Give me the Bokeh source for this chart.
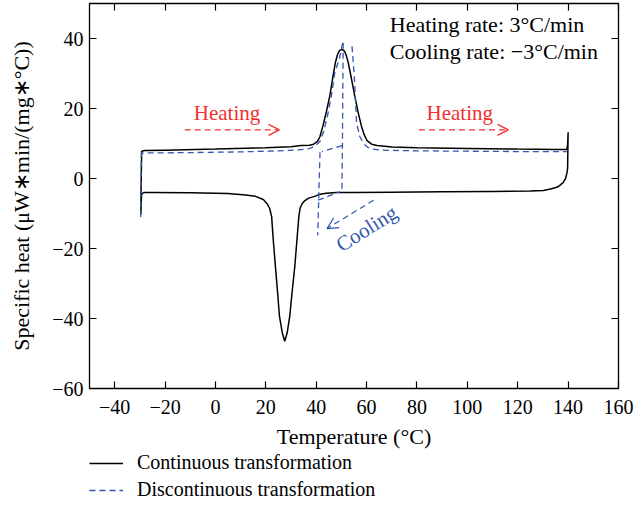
from bokeh.plotting import figure
from bokeh.layouts import column
from bokeh.models import (LinearAxis, Range1d, Arrow, OpenHead, Label, Legend,
                          LegendItem, FixedTicker, CustomJSTickFormatter)
from bokeh.embed import file_html
from bokeh.resources import INLINE

# ---------------- data ----------------
x_ticks = [-40, -20, 0, 20, 40, 60, 80, 100, 120, 140, 160]
y_ticks = [-60, -40, -20, 0, 20, 40]

# continuous transformation: heating branch
cont_heat_T = [-29.6, -29.5, -29.3, -28, -20, 0, 20, 30, 34, 37.3, 39, 40.5, 41.5,
               42.7, 44, 45.4, 46.5, 47.6, 48.5, 49.3, 50.3, 51.3, 52, 52.7, 54,
               55.3, 56.6, 57.9, 59, 60.2, 62, 64.2, 70, 80, 100, 120, 135, 139.5,
               139.8, 140]
cont_heat_Y = [-10.3, -2, 7.8, 8.0, 8.1, 8.4, 8.8, 9.1, 9.4, 9.5, 9.8, 10.6, 12.0,
               15.1, 19, 23.6, 28.5, 33.1, 35.5, 36.6, 36.9, 36.3, 35, 33.1, 28.5,
               23.6, 19, 15.1, 12.6, 10.8, 9.8, 9.4, 9.0, 8.8, 8.6, 8.4, 8.3, 8.3,
               9.5, 13.2]
# continuous transformation: cooling branch
cont_cool_T = [140, 139.9, 139.8, 139.6, 139, 138, 136.5, 135.5, 133, 130.2, 125,
               110, 90, 70, 55, 48, 44, 41, 39.4, 37, 35.5, 34.4, 33.6, 33.1, 32.3,
               31.5, 30.5, 29.5, 28.5, 27.5, 26.5, 25.4, 24.6, 23.8, 23, 22.3, 21.5,
               20.5, 19, 15.9, 12, 5, -10, -25, -28.5, -29.3, -29.5, -29.6]
cont_cool_Y = [13.2, 8, 3, 1.8, 0, -1.2, -2.1, -2.5, -3.0, -3.4, -3.6, -3.7, -3.8,
               -3.9, -4.0, -4.0, -4.2, -4.6, -5.1, -5.6, -6.3, -7.2, -8.5, -10.9,
               -18, -25.1, -32, -39.3, -44, -46.5, -44, -39.3, -32, -25.1, -18,
               -10.9, -8.5, -7.2, -6.0, -5.1, -4.7, -4.3, -4.1, -4.0, -4.0, -4.5,
               -7, -10.3]

# discontinuous transformation segments
disc_heat_T = [-29.7, -29.6, -29.4, -27, -10, 10, 25, 33, 37, 39.5, 41.5, 43, 44.5,
               46, 47.4, 49.3, 50.5]
disc_heat_Y = [-11.0, -3, 7.2, 7.3, 7.4, 7.6, 7.9, 8.2, 8.5, 9.2, 10.6, 13.5, 18,
               23.5, 30.3, 34.5, 38.8]
disc_drop_T = [50.7, 50.4, 50.2]
disc_drop_Y = [38.8, 9.4, -3.6]
disc_back_T = [50.3, 42.3]
disc_back_Y = [9.4, 7.7]
disc_spike_T = [41.5, 40.6]
disc_spike_Y = [7.5, -16.2]
disc_cool_T = [40.7, 49.3]
disc_cool_Y = [-6.2, -3.8]
disc_reheat_T = [54.2, 55.2, 56.0, 57.3, 59, 60.5, 62.2, 66, 80, 100, 120, 139.5]
disc_reheat_Y = [37.8, 28.4, 16.0, 12, 9.8, 8.9, 8.4, 8.1, 7.9, 7.8, 7.7, 7.7]

series_names = ["Continuous transformation", "Discontinuous transformation"]

# annotations (data space)
heat_arrow_left = (-12.2, 25.4, 13.9)
heat_arrow_right = (80.8, 116.3, 13.9)
heat_text_pos = [(4.6, 18.7), (97.0, 18.7)]
cool_arrow = (62.8, -6.2, 44.3, -14.3)
cool_text_pos = (60.0, -14.3)
rate_text_x = 69.2
rate_text_y = [44.0, 36.4]
rate_texts = ["Heating rate: 3°C/min", "Cooling rate: −3°C/min"]

FONT = "Liberation Serif"
BLACK = "#000000"
BLUE = "#3355b0"
RED = "#f03030"
DASH = "6 4"

p = figure(width=636, height=451,
           x_range=Range1d(-50, 160), y_range=Range1d(-60, 50),
           output_backend="svg", toolbar_location=None,
           min_border_left=88, min_border_right=18, min_border_top=3,
           min_border_bottom=58, background_fill_color="white",
           border_fill_color="white")
p.grid.visible = False
p.outline_line_color = BLACK
p.outline_line_width = 1.3


def fmt(v):
    return ("−" + str(-v)) if v < 0 else str(v)


for ax, ticks in ((p.xaxis[0], x_ticks), (p.yaxis[0], y_ticks)):
    ax.ticker = FixedTicker(ticks=ticks)
    ax.major_label_overrides = {t: fmt(t) for t in ticks}
    ax.major_tick_in = 7
    ax.major_tick_out = 0
    ax.minor_tick_line_color = None
    ax.major_tick_line_color = BLACK
    ax.major_tick_line_width = 1.2
    ax.axis_line_color = BLACK
    ax.major_label_text_font = FONT
    ax.major_label_text_font_size = "20px"
    ax.major_label_text_color = BLACK
    ax.axis_label_text_font = FONT
    ax.axis_label_text_font_size = "22px"
    ax.axis_label_text_font_style = "normal"
    ax.axis_label_text_color = BLACK

p.xaxis.axis_label = "Temperature (°C)"
p.xaxis.major_label_standoff = 11
p.xaxis.axis_label_standoff = 7
p.yaxis.axis_label = "Specific heat (μW∗min/(mg∗°C))"
p.yaxis.major_label_standoff = 6
p.yaxis.axis_label_standoff = 15

for loc, ticks in (("above", x_ticks), ("right", y_ticks)):
    ax = LinearAxis(ticker=FixedTicker(ticks=ticks),
                    formatter=CustomJSTickFormatter(code="return ''"))
    ax.major_label_standoff = 0
    ax.major_tick_in = 7
    ax.major_tick_out = 0
    ax.minor_tick_line_color = None
    ax.major_tick_line_width = 1.2
    ax.axis_line_color = BLACK
    p.add_layout(ax, loc)

p.line(cont_heat_T + cont_cool_T, cont_heat_Y + cont_cool_Y,
       line_color=BLACK, line_width=1.5)
p.multi_line(
    [disc_heat_T, disc_drop_T, disc_back_T, disc_spike_T, disc_cool_T, disc_reheat_T],
    [disc_heat_Y, disc_drop_Y, disc_back_Y, disc_spike_Y, disc_cool_Y, disc_reheat_Y],
    line_color=BLUE, line_width=1.3, line_dash=DASH)

for (xs, xe, yy) in (heat_arrow_left, heat_arrow_right):
    p.add_layout(Arrow(end=OpenHead(size=11, line_color=RED, line_width=1.2),
                       x_start=xs, y_start=yy, x_end=xe, y_end=yy,
                       line_color=RED, line_width=1.2, line_dash=DASH))
for (tx, ty) in heat_text_pos:
    p.add_layout(Label(x=tx, y=ty, text="Heating", text_font=FONT,
                       text_font_size="21px", text_color=RED,
                       text_align="center", text_baseline="middle"))

p.add_layout(Arrow(end=OpenHead(size=11, line_color=BLUE, line_width=1.2),
                   x_start=cool_arrow[0], y_start=cool_arrow[1],
                   x_end=cool_arrow[2], y_end=cool_arrow[3],
                   line_color=BLUE, line_width=1.2, line_dash=DASH))
p.add_layout(Label(x=cool_text_pos[0], y=cool_text_pos[1], text="Cooling",
                   text_font=FONT, text_font_size="21px", text_color=BLUE,
                   angle=0.56, text_align="center", text_baseline="middle"))

for t, yy in zip(rate_texts, rate_text_y):
    p.add_layout(Label(x=rate_text_x, y=yy, text=t, text_font=FONT,
                       text_font_size="22px", text_color=BLACK,
                       text_align="left", text_baseline="middle"))

# legend panel below the chart (series drawn off-range; only legend glyphs show)
leg = figure(width=636, height=62, output_backend="svg", toolbar_location=None,
             x_axis_type=None, y_axis_type=None,
             min_border_left=89, min_border_top=0, min_border_right=0,
             min_border_bottom=0,
             x_range=Range1d(1000, 1001), y_range=Range1d(1000, 1001),
             background_fill_color="white", border_fill_color="white")
leg.outline_line_color = None
leg.grid.visible = False
lr1 = leg.line(cont_heat_T, cont_heat_Y, line_color=BLACK, line_width=1.5)
lr2 = leg.line(disc_reheat_T, disc_reheat_Y, line_color=BLUE, line_width=1.3,
               line_dash=DASH)
legend = Legend(items=[LegendItem(label=series_names[0], renderers=[lr1]),
                       LegendItem(label=series_names[1], renderers=[lr2])],
                location="top_left", orientation="vertical",
                label_text_font=FONT, label_text_font_size="20px",
                label_text_color=BLACK, glyph_width=34, glyph_height=14,
                label_height=14, label_standoff=14,
                spacing=4, padding=0, margin=0,
                border_line_color=None, background_fill_alpha=0)
leg.add_layout(legend, "center")

layout = column(p, leg, spacing=0)
open("out.html", "w").write(file_html(layout, INLINE))
